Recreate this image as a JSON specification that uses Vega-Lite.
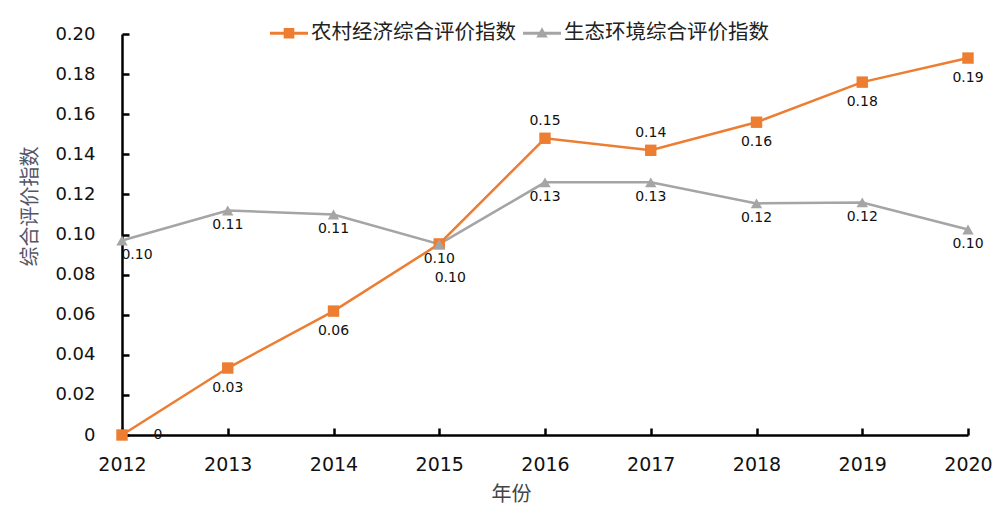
{
  "$schema": "https://vega.github.io/schema/vega-lite/v6.json",
  "autosize": "none",
  "width": 846,
  "height": 401,
  "padding": {"left": 122, "top": 34, "right": 32, "bottom": 78},
  "background": "white",
  "config": {"view": {"stroke": null}},
  "data": {"values": [
    {"year": 2012, "series": "农村经济综合评价指数", "value": 0.0},
    {"year": 2013, "series": "农村经济综合评价指数", "value": 0.0334},
    {"year": 2014, "series": "农村经济综合评价指数", "value": 0.0618},
    {"year": 2015, "series": "农村经济综合评价指数", "value": 0.0953},
    {"year": 2016, "series": "农村经济综合评价指数", "value": 0.148},
    {"year": 2017, "series": "农村经济综合评价指数", "value": 0.142},
    {"year": 2018, "series": "农村经济综合评价指数", "value": 0.156},
    {"year": 2019, "series": "农村经济综合评价指数", "value": 0.176},
    {"year": 2020, "series": "农村经济综合评价指数", "value": 0.188},
    {"year": 2012, "series": "生态环境综合评价指数", "value": 0.097},
    {"year": 2013, "series": "生态环境综合评价指数", "value": 0.112},
    {"year": 2014, "series": "生态环境综合评价指数", "value": 0.110},
    {"year": 2015, "series": "生态环境综合评价指数", "value": 0.0952},
    {"year": 2016, "series": "生态环境综合评价指数", "value": 0.126},
    {"year": 2017, "series": "生态环境综合评价指数", "value": 0.126},
    {"year": 2018, "series": "生态环境综合评价指数", "value": 0.1155},
    {"year": 2019, "series": "生态环境综合评价指数", "value": 0.116},
    {"year": 2020, "series": "生态环境综合评价指数", "value": 0.1025}
  ]},
  "encoding": {
    "x": {"field": "year", "type": "quantitative",
      "scale": {"domain": [2012, 2020], "nice": false, "zero": false},
      "axis": {"values": [2012, 2013, 2014, 2015, 2016, 2017, 2018, 2019, 2020], "format": "d", "labelFlush": false,
        "title": "年份", "titleFont": "Noto Sans CJK SC", "titleFontSize": 20, "titleFontWeight": "normal", "titleColor": "#444", "titleX": 389, "titlePadding": 10,
        "labelFont": "DejaVu Sans", "labelFontSize": 19, "labelColor": "#111", "labelPadding": 27,
        "domainColor": "black", "domainWidth": 2.5, "tickColor": "black", "tickWidth": 2.5, "tickSize": -7, "grid": false}},
    "y": {"field": "value", "type": "quantitative",
      "scale": {"domain": [0, 0.2], "nice": false},
      "axis": {"values": [0, 0.02, 0.04, 0.06, 0.08, 0.1, 0.12, 0.14, 0.16, 0.18, 0.2], "labelFlush": false,
        "labelExpr": "datum.value == 0 ? '0' : format(datum.value, '.2f')",
        "title": "综合评价指数", "titleFont": "Noto Sans CJK SC", "titleFontSize": 20, "titleFontWeight": "normal", "titleColor": "#556", "titlePadding": 14, "titleY": 172,
        "labelFont": "DejaVu Sans", "labelFontSize": 18, "labelColor": "#111", "labelPadding": 34,
        "domainColor": "black", "domainWidth": 2.5, "tickColor": "black", "tickWidth": 2.5, "tickSize": -7, "grid": false}}
  },
  "layer": [
    {
      "mark": {"type": "line", "strokeWidth": 2.5},
      "encoding": {
        "color": {"field": "series", "type": "nominal",
          "scale": {"domain": ["农村经济综合评价指数", "生态环境综合评价指数"], "range": ["#ED7D31", "#A5A5A5"]},
          "legend": {"orient": "none", "legendX": 148, "legendY": -20, "direction": "horizontal", "title": null,
            "symbolSize": 1444, "labelFont": "Noto Sans CJK SC", "labelFontSize": 20.5, "labelColor": "#222", "labelLimit": 400,
            "columnPadding": 7, "labelOffset": 3, "symbolStrokeWidth": 0,
            "encode": {"symbols": {"update": {
              "shape": {"signal": "datum.value == '农村经济综合评价指数' ? 'M-1,-0.08H1V0.08H-1Z M-0.28,-0.28H0.28V0.28H-0.28Z' : 'M-1,-0.08H1V0.08H-1Z M0,-0.32L0.3,0.22H-0.3Z'"},
              "size": {"value": 1444},
              "fill": {"signal": "datum.value == '农村经济综合评价指数' ? '#ED7D31' : '#A5A5A5'"},
              "fillOpacity": {"value": 1},
              "stroke": {"value": "transparent"},
              "strokeWidth": {"value": 0}
            }}}}
        }
      }
    },
    {
      "transform": [{"filter": "datum.series == '农村经济综合评价指数'"}],
      "mark": {"type": "point", "filled": true, "opacity": 1, "size": 130, "shape": "square"},
      "encoding": {"color": {"field": "series", "type": "nominal"}}
    },
    {
      "transform": [{"filter": "datum.series == '生态环境综合评价指数'"}],
      "mark": {"type": "point", "filled": true, "opacity": 1, "size": 130, "shape": "triangle-up"},
      "encoding": {"color": {"field": "series", "type": "nominal"}}
    },
    {
      "transform": [{"filter": "datum.series == '农村经济综合评价指数' && datum.year != 2012 && datum.year != 2016 && datum.year != 2017 && datum.year != 2015"}],
      "mark": {"type": "text", "font": "DejaVu Sans", "fontSize": 14, "color": "#111", "dy": 20},
      "encoding": {"text": {"field": "value", "type": "quantitative", "format": ".2f"}}
    },
    {
      "transform": [{"filter": "datum.series == '农村经济综合评价指数' && datum.year == 2015"}],
      "mark": {"type": "text", "font": "DejaVu Sans", "fontSize": 14, "color": "#111", "dy": 34, "dx": 11},
      "encoding": {"text": {"field": "value", "type": "quantitative", "format": ".2f"}}
    },
    {
      "transform": [{"filter": "datum.series == '农村经济综合评价指数' && (datum.year == 2016 || datum.year == 2017)"}],
      "mark": {"type": "text", "font": "DejaVu Sans", "fontSize": 14, "color": "#111", "dy": -17},
      "encoding": {"text": {"field": "value", "type": "quantitative", "format": ".2f"}}
    },
    {
      "transform": [{"filter": "datum.series == '农村经济综合评价指数' && datum.year == 2012"}],
      "mark": {"type": "text", "font": "DejaVu Sans", "fontSize": 14, "color": "#111", "dx": 36, "text": "0"}
    },
    {
      "transform": [{"filter": "datum.series == '生态环境综合评价指数' && datum.year != 2012"}],
      "mark": {"type": "text", "font": "DejaVu Sans", "fontSize": 14, "color": "#111", "dy": 15},
      "encoding": {"text": {"field": "value", "type": "quantitative", "format": ".2f"}}
    },
    {
      "transform": [{"filter": "datum.series == '生态环境综合评价指数' && datum.year == 2012"}],
      "mark": {"type": "text", "font": "DejaVu Sans", "fontSize": 14, "color": "#111", "dy": 14, "dx": 15},
      "encoding": {"text": {"field": "value", "type": "quantitative", "format": ".2f"}}
    }
  ]
}
